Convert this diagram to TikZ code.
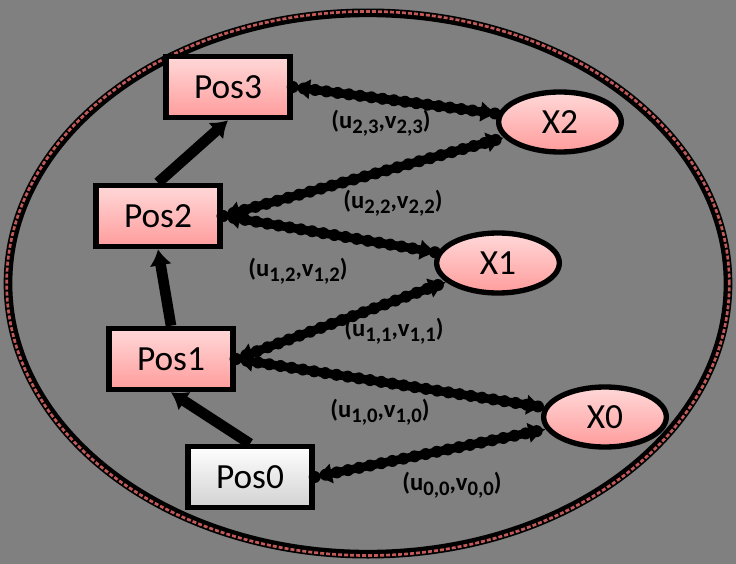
\documentclass[tikz,border=0pt]{standalone}
\usepackage{fontspec}
\setmainfont{Carlito}
\usepackage{xcolor}
\definecolor{Slate}{HTML}{808080}
\definecolor{Blush Top}{HTML}{FFD8D8}
\definecolor{Blush Bottom}{HTML}{FF9C9C}
\definecolor{Rim}{HTML}{C25A5A}
\colorlet{cBg}{Slate}
\colorlet{cTop}{Blush Top}
\colorlet{cBot}{Blush Bottom}
\colorlet{cRim}{Rim}
\usetikzlibrary{positioning, arrows.meta, shapes.geometric}
\tikzset{
	line width = 1pt,
	posbox/.style={
		draw=black,
		line width=4pt,
		rectangle,
		top color=cTop,
		bottom color=cBot,
		minimum width=93pt,
		minimum height=46pt,
		inner sep=0pt,
		font=\fontsize{26.5}{30}\selectfont
	},
	startbox/.style={
		posbox,
		top color=white,
		bottom color=black!18
	},
	xnode/.style={
		draw=black,
		line width=4pt,
		ellipse,
		top color=cTop,
		bottom color=cBot,
		minimum width=92pt,
		minimum height=45pt,
		inner sep=0pt,
		font=\fontsize{26.5}{30}\selectfont
	},
	uvlabel/.style={
		inner sep=0pt,
		text=black,
		font=\fontsize{18.5}{21}\bfseries\selectfont
	},
	chain/.style={
		draw=black,
		line width=8pt,
		-{Latex[length=12pt,width=17pt]}
	},
	beads/.style={
		draw=black,
		line width=6.5pt,
		{Latex[length=13pt,width=16pt]}-{Latex[length=13pt,width=16pt]},
		preaction={draw, -, line width=9pt, line cap=round, dash pattern=on 0pt off 8.5pt}
	}
}
\newcommand{\uvpair}[1]{(u\raisebox{-0.45ex}{\fontsize{15.5}{17}\selectfont #1},v\raisebox{-0.45ex}{\fontsize{15.5}{17}\selectfont #1})}

\begin{document}
\begin{tikzpicture}[x=0.75pt, y=-0.75pt]
% ---
% background and outer ellipse
% ---
\fill[cBg] (0,0) rectangle (736,564);
\useasboundingbox (0,0) rectangle (736,564);
\draw[black, line width=6.5pt] (368,283.5) ellipse [x radius=270pt, y radius=203pt];
\draw[cRim, line width=2pt, dash pattern=on 3pt off 1.5pt] (368,283.5) ellipse [x radius=271pt, y radius=204pt];

% ---
% position chain
% ---
\node[startbox] at (250,477) (pos0) {Pos0};
\node[posbox] at (171,359) (pos1) {Pos1};
\node[posbox] at (158,216) (pos2) {Pos2};
\node[posbox] at (228,87) (pos3) {Pos3};

% ---
% observed points
% ---
\node[xnode] at (605,417) (x0) {X0};
\node[xnode] at (498,263) (x1) {X1};
\node[xnode] at (560,122) (x2) {X2};

\draw[chain] (pos0.north) to (pos1.south);
\draw[chain] (pos1.north) to (pos2.south);
\draw[chain] (pos2.north) to (pos3.south);

\draw[beads] (pos3.east) to (x2);
\draw[beads] (pos2.east) to (x2);
\draw[beads] (pos2.east) to (x1);
\draw[beads] (pos1.east) to (x1);
\draw[beads] (pos1.east) to (x0);
\draw[beads] (pos0.east) to (x0);

% ---
% labels
% ---
\node[uvlabel] at (381,123) (l23) {\uvpair{2,3}};
\node[uvlabel] at (393,203) (l22) {\uvpair{2,2}};
\node[uvlabel] at (298,271) (l12) {\uvpair{1,2}};
\node[uvlabel] at (394,331) (l11) {\uvpair{1,1}};
\node[uvlabel] at (380,412) (l10) {\uvpair{1,0}};
\node[uvlabel] at (452,485) (l00) {\uvpair{0,0}};
\end{tikzpicture}
\end{document}
